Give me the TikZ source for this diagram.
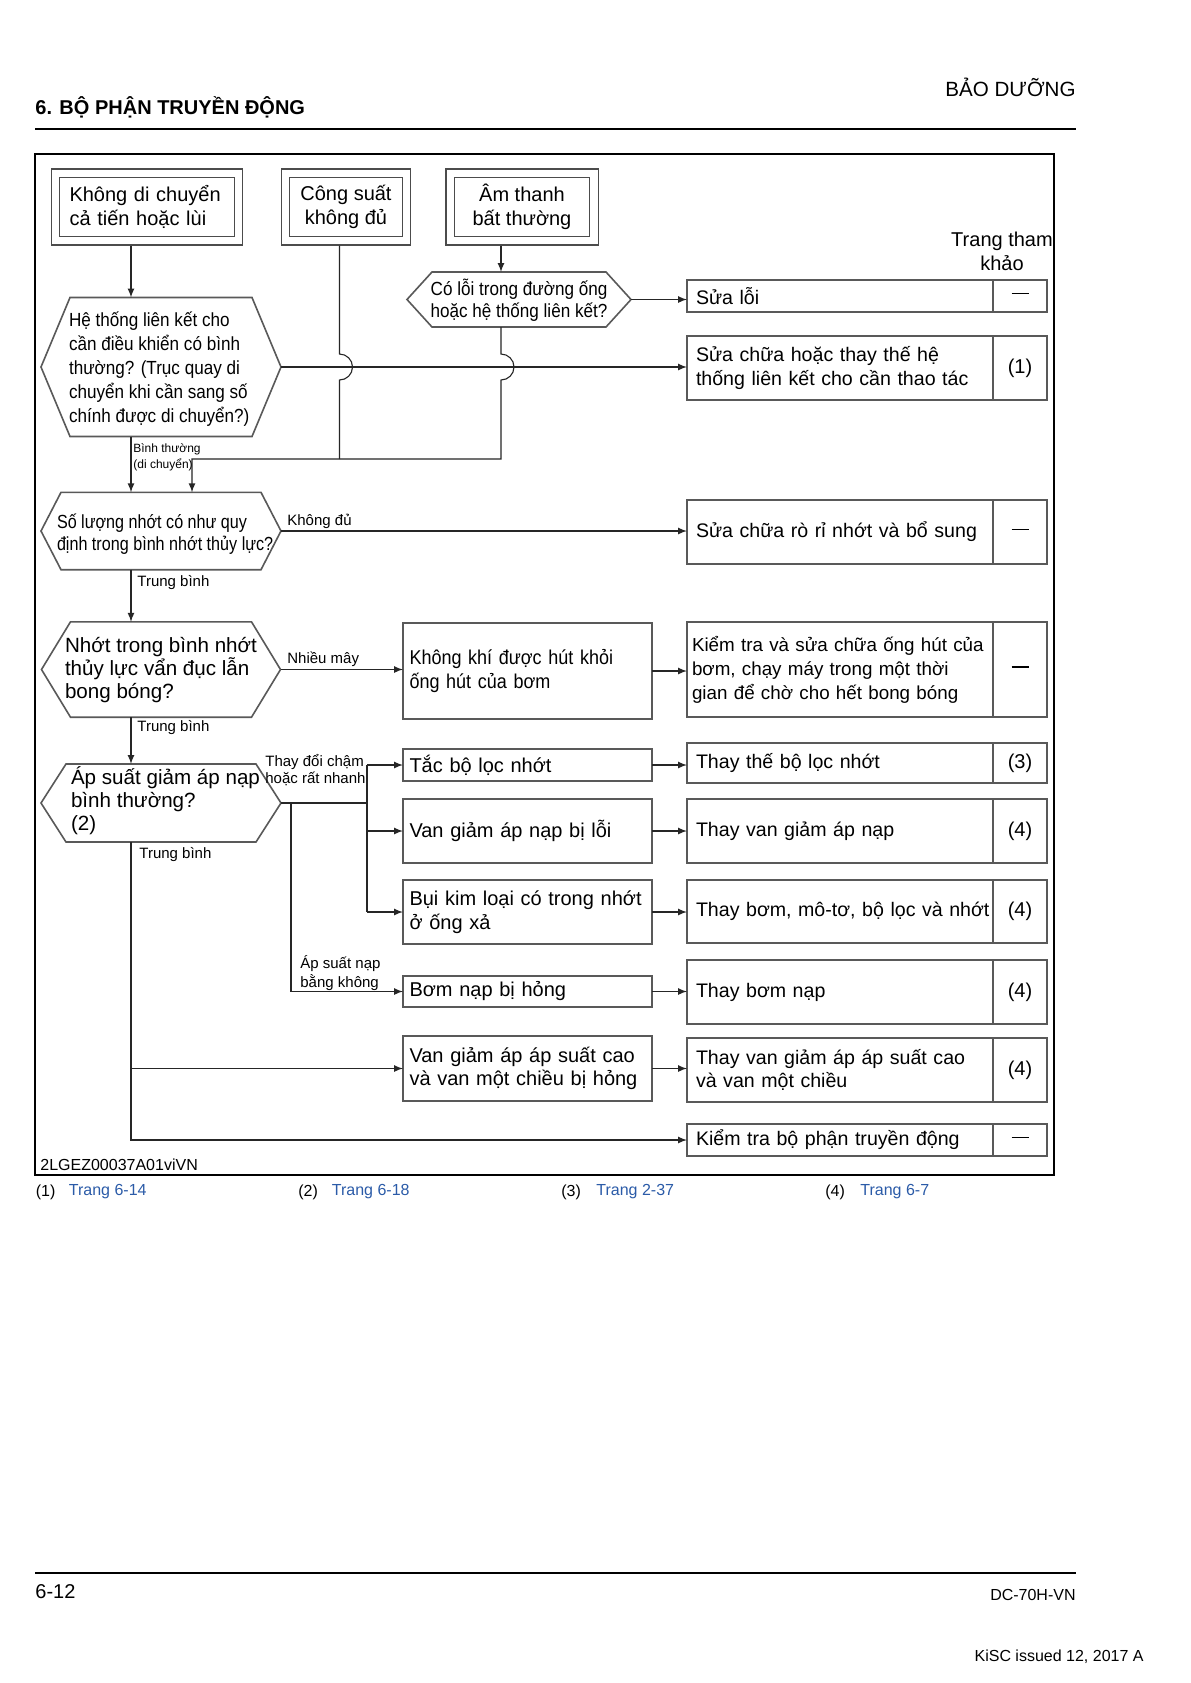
\documentclass[tikz,border=0pt]{standalone}
\usepackage{fontspec}
\setmainfont{Liberation Sans}
\newfontfamily\narrowfont[FakeStretch=0.9]{Liberation Sans}
\newfontfamily\tightfont[FakeStretch=0.85]{Liberation Sans}
\usetikzlibrary{calc}
\definecolor{refblue}{HTML}{2B5BA8}

% hexagon: name, centre, half flat width, half height, bevel
\newcommand{\hexframe}[5]{%
  \coordinate (#1-c) at #2;
  \draw[boxline] ($(#1-c)+(-#3,-#4)$) -- ($(#1-c)+(#3,-#4)$)
    -- ($(#1-c)+(#3+#5,0)$) coordinate (#1-r)
    -- ($(#1-c)+(#3,#4)$) -- ($(#1-c)+(-#3,#4)$)
    -- ($(#1-c)+(-#3-#5,0)$) coordinate (#1-l) -- cycle;
  \coordinate (#1-t) at ($(#1-c)+(0,-#4)$);
  \coordinate (#1-b) at ($(#1-c)+(0,#4)$);}
\newcommand{\nopage}{\rule[2.6pt]{8.5pt}{0.9pt}}

\begin{document}
\begin{tikzpicture}[x=0.5pt,y=-0.5pt,
    boxline/.style={draw=black!65, line width=0.8pt},
    flow/.style={draw=black!85, line width=0.55pt},
    dbox/.style={draw=black!70, line width=0.6pt, double, double distance=3.6pt, outer sep=2.4pt,
      minimum height=33.8pt, inner sep=0pt, font=\fontsize{10pt}{11.7pt}\selectfont},
    hexnode/.style={inner sep=0pt, outer sep=0pt, anchor=west, align=left},
    midbox/.style={boxline, minimum width=124.5pt, text width=118pt, align=left, inner sep=0pt,
      outer sep=0pt, font=\fontsize{10pt}{11.7pt}\selectfont},
    actbox/.style={boxline, minimum width=153pt, text width=152pt, align=left, inner sep=0pt,
      outer sep=0pt, font=\fontsize{9.8pt}{11.7pt}\selectfont, execute at begin node={\leftskip=4pt\relax}},
    refbox/.style={boxline, minimum width=27pt, inner sep=0pt, outer sep=0pt,
      font=\fontsize{10pt}{11.7pt}\selectfont},
    lbl/.style={inner sep=0pt, anchor=west, align=left, font=\fontsize{7.5pt}{6.5pt}\selectfont}
  ]
  \path[fill=white] (0,0) rectangle (1190,1683);

  % page head and foot
  \node[anchor=east, inner sep=0pt, font=\fontsize{10.3pt}{12pt}\selectfont] (part) at (1076,87) {BẢO DƯỠNG};
  \node[anchor=west, inner sep=0pt, font=\bfseries\fontsize{10pt}{12pt}\selectfont] (chapter) at (35,107) {6. BỘ PHẬN TRUYỀN ĐỘNG};
  \draw[line width=0.6pt] (35,129) -- (1076,129);
  \draw[line width=0.6pt] (35,1573) -- (1076,1573);
  \node[anchor=west, inner sep=0pt, font=\fontsize{10pt}{12pt}\selectfont] (pageno) at (35,1592) {6-12};
  \node[anchor=east, inner sep=0pt, font=\fontsize{8pt}{10pt}\selectfont] (model) at (1076,1595) {DC-70H-VN};
  \node[anchor=east, inner sep=0pt, font=\fontsize{8pt}{10pt}\selectfont] (issue) at (1144,1657) {KiSC issued 12, 2017 A};

  % frame
  \draw[line width=0.6pt] (35,154) rectangle (1054,1175);
  \node[anchor=west, inner sep=0pt, font=\fontsize{8pt}{10pt}\selectfont] (figid) at (40,1165) {2LGEZ00037A01viVN};

  % columns of the connectors
  \coordinate (colmain) at (131,0);
  \coordinate (colmerge) at (192,0);
  \coordinate (colpower) at (339.5,0);
  \coordinate (colnoise) at (501,0);
  \coordinate (colzero) at (291,0);
  \coordinate (colfork) at (367,0);
  \coordinate (joinrow) at (0,459);

  % symptoms
  \node[dbox, minimum width=91.5pt, text width=77.5pt, align=left] (b1) at (147,207) {Không di chuyển\\cả tiến hoặc lùi};
  \node[dbox, minimum width=60.4pt, align=center] (b2) at (346,207) {Công suất\\không đủ};
  \node[dbox, minimum width=71.9pt, align=center] (b3) at (522,207) {Âm thanh\\bất thường};

  % checks
  \hexframe{h1}{(161,367)}{91}{69.5}{29}
  \node[hexnode, font=\narrowfont\fontsize{9.5pt}{12pt}\selectfont] (h1) at (69,369)
    {Hệ thống liên kết cho\\cần điều khiển có bình\\thường? (Trục quay di\\chuyển khi cần sang số\\chính được di chuyển?)};
  \hexframe{h2}{(519,299.5)}{87}{27.5}{25}
  \node[inner sep=0pt, align=center, font=\narrowfont\fontsize{9.5pt}{11pt}\selectfont] (h2) at (519,300.5)
    {Có lỗi trong đường ống\\hoặc hệ thống liên kết?};
  \hexframe{h3}{(161,531)}{100}{38.7}{20}
  \node[hexnode, font=\tightfont\fontsize{9.5pt}{11pt}\selectfont] (h3) at (57,534)
    {Số lượng nhớt có như quy\\định trong bình nhớt thủy lực?};
  \hexframe{h4}{(161,669.5)}{90.5}{47.7}{29}
  \node[hexnode, font=\fontsize{10.3pt}{11.7pt}\selectfont] (h4) at (65,670)
    {Nhớt trong bình nhớt\\thủy lực vẩn đục lẫn\\bong bóng?};
  \hexframe{h5}{(161,803)}{95}{39}{25}
  \node[hexnode, font=\fontsize{10.3pt}{11.5pt}\selectfont] (h5) at (71,800.5)
    {Áp suất giảm áp nạp\\bình thường?\\(2)};

  % causes
  \node[midbox, minimum height=48pt, font=\narrowfont\fontsize{10pt}{11.7pt}\selectfont] (m1) at (527.5,671) {Không khí được hút khỏi\\ống hút của bơm};
  \node[midbox, minimum height=16pt] (m2) at (527.5,765) {Tắc bộ lọc nhớt};
  \node[midbox, minimum height=32pt] (m3) at (527.5,831) {Van giảm áp nạp bị lỗi};
  \node[midbox, minimum height=32pt] (m4) at (527.5,912) {Bụi kim loại có trong nhớt\\ở ống xả};
  \node[midbox, minimum height=15.5pt] (m5) at (527.5,991.5) {Bơm nạp bị hỏng};
  \node[midbox, minimum height=32.5pt] (m6) at (527.5,1068.5) {Van giảm áp áp suất cao\\và van một chiều bị hỏng};

  % remedies and reference pages
  \node[font=\fontsize{10pt}{11.85pt}\selectfont, align=center, inner sep=0pt] (reftitle) at (1002,251) {Trang tham\\khảo};
  \node[actbox, minimum height=16pt] (r1) at (840,296) {Sửa lỗi};
  \node[refbox, minimum height=16pt] (c1) at (1020,296) {\nopage};
  \node[actbox, minimum height=32pt] (r2) at (840,368) {Sửa chữa hoặc thay thế hệ\\thống liên kết cho cần thao tác};
  \node[refbox, minimum height=32pt] (c2) at (1020,368) {(1)};
  \node[actbox, minimum height=32pt] (r3) at (840,532) {Sửa chữa rò rỉ nhớt và bổ sung};
  \node[refbox, minimum height=32pt] (c3) at (1020,532) {\nopage};
  \node[actbox, minimum height=47.5pt, font=\fontsize{9.4pt}{12pt}\selectfont, execute at begin node={\leftskip=2pt\relax}] (r4) at (840,669.5) {Kiểm tra và sửa chữa ống hút của\\bơm, chạy máy trong một thời\\gian để chờ cho hết bong bóng};
  \node[refbox, minimum height=47.5pt] (c4) at (1020,669.5) {\nopage};
  \node[actbox, minimum height=20pt] (r5) at (840,763) {Thay thế bộ lọc nhớt};
  \node[refbox, minimum height=20pt] (c5) at (1020,763) {(3)};
  \node[actbox, minimum height=32pt] (r6) at (840,831) {Thay van giảm áp nạp};
  \node[refbox, minimum height=32pt] (c6) at (1020,831) {(4)};
  \node[actbox, minimum height=31.5pt] (r7) at (840,911.5) {Thay bơm, mô-tơ, bộ lọc và nhớt};
  \node[refbox, minimum height=31.5pt] (c7) at (1020,911.5) {(4)};
  \node[actbox, minimum height=32pt] (r8) at (840,992) {Thay bơm nạp};
  \node[refbox, minimum height=32pt] (c8) at (1020,992) {(4)};
  \node[actbox, minimum height=32pt] (r9) at (840,1070) {Thay van giảm áp áp suất cao\\và van một chiều};
  \node[refbox, minimum height=32pt] (c9) at (1020,1070) {(4)};
  \node[actbox, minimum height=16pt] (r10) at (840,1140) {Kiểm tra bộ phận truyền động};
  \node[refbox, minimum height=16pt] (c10) at (1020,1140) {\nopage};

  % connectors
  \draw[flow, -latex] (b1.south -| colmain) -- (h1-t -| colmain);
  \draw[flow, -latex] (b3.south -| colnoise) -- (h2-t -| colnoise);
  \draw[flow, -latex] (h2-r) -- (h2-r -| r1.west);
  \draw[flow, -latex] (h1-r) -- (h1-r -| r2.west);
  \draw[flow] (b2.south -| colpower) -- ($(h1-r -| colpower)+(0,-13)$)
    arc[start angle=90, end angle=-90, radius=6.5pt] -- (colpower |- joinrow);
  \draw[flow, -latex] (h2-b -| colnoise) -- ($(h1-r -| colnoise)+(0,-13)$)
    arc[start angle=90, end angle=-90, radius=6.5pt] -- (colnoise |- joinrow)
    -- (colmerge |- joinrow) -- (h3-t -| colmerge);
  \draw[flow, -latex] (h1-b -| colmain) -- (h3-t -| colmain);
  \node[lbl, font=\fontsize{6pt}{8pt}\selectfont] (lnormal) at (133,457.5) {Bình thường\\(di chuyển)};

  \draw[flow, -latex] (h3-r) -- (h3-r -| r3.west);
  \node[lbl] (lshort) at (287,521) {Không đủ};
  \draw[flow, -latex] (h3-b -| colmain) -- (h4-t -| colmain);
  \node[lbl] (lavg1) at (137,583) {Trung bình};

  \draw[flow, -latex] (h4-r) -- (h4-r -| m1.west);
  \node[lbl] (lcloud) at (287,659) {Nhiều mây};
  \draw[flow, -latex] (m1.east) -- (m1.east -| r4.west);
  \draw[flow, -latex] (h4-b -| colmain) -- (h5-t -| colmain);
  \node[lbl] (lavg2) at (137,728) {Trung bình};

  \draw[flow] (h5-r) -- (colfork |- h5-r);
  \draw[flow] (colfork |- m2.west) -- (colfork |- m4.west);
  \draw[flow, -latex] (colfork |- m2.west) -- (m2.west);
  \draw[flow, -latex] (colfork |- m3.west) -- (m3.west);
  \draw[flow, -latex] (colfork |- m4.west) -- (m4.west);
  \node[lbl] (lslow) at (265,770) {Thay đổi chậm\\hoặc rất nhanh};
  \draw[flow, -latex] (colzero |- h5-r) -- (colzero |- m5.west) -- (m5.west);
  \node[lbl] (lzero) at (300,973) {Áp suất nạp\\bằng không};

  \draw[flow, -latex] (h5-b -| colmain) -- (colmain |- r10.west) -- (r10.west);
  \draw[flow, -latex] (colmain |- m6.west) -- (m6.west);
  \node[lbl] (lavg3) at (139,855) {Trung bình};

  \draw[flow, -latex] (m2.east) -- (m2.east -| r5.west);
  \draw[flow, -latex] (m3.east) -- (m3.east -| r6.west);
  \draw[flow, -latex] (m4.east) -- (m4.east -| r7.west);
  \draw[flow, -latex] (m5.east) -- (m5.east -| r8.west);
  \draw[flow, -latex] (m6.east) -- (m6.east -| r9.west);

  % reference pages
  \node[anchor=west, inner sep=0pt, font=\fontsize{8pt}{10pt}\selectfont] (n1) at (35.5,1192) {(1)};
  \node[anchor=west, inner sep=0pt, font=\fontsize{8pt}{10pt}\selectfont, text=refblue] (p1) at (68.5,1192) {Trang 6-14};
  \node[anchor=west, inner sep=0pt, font=\fontsize{8pt}{10pt}\selectfont] (n2) at (298,1192) {(2)};
  \node[anchor=west, inner sep=0pt, font=\fontsize{8pt}{10pt}\selectfont, text=refblue] (p2) at (331.5,1192) {Trang 6-18};
  \node[anchor=west, inner sep=0pt, font=\fontsize{8pt}{10pt}\selectfont] (n3) at (561,1192) {(3)};
  \node[anchor=west, inner sep=0pt, font=\fontsize{8pt}{10pt}\selectfont, text=refblue] (p3) at (596,1192) {Trang 2-37};
  \node[anchor=west, inner sep=0pt, font=\fontsize{8pt}{10pt}\selectfont] (n4) at (825,1192) {(4)};
  \node[anchor=west, inner sep=0pt, font=\fontsize{8pt}{10pt}\selectfont, text=refblue] (p4) at (860,1192) {Trang 6-7};
\end{tikzpicture}
\end{document}
